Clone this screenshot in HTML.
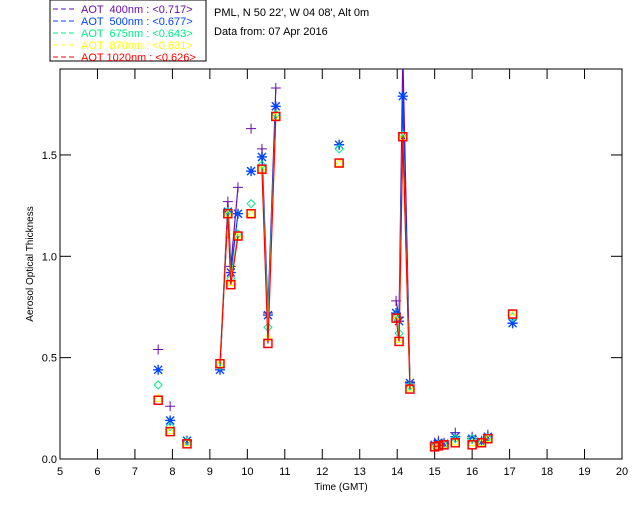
<!DOCTYPE html>
<html><head><meta charset="utf-8"><style>
body{margin:0;background:#fff;width:640px;height:512px;overflow:hidden}
svg text{font-family:"Liberation Sans",sans-serif;font-size:11px}
</style></head><body>
<svg id="chart" width="640" height="512" xmlns="http://www.w3.org/2000/svg">
<rect x="50" y="0" width="156" height="61" fill="#fff" stroke="#000"/>
<g id="legend"></g>
<text x="214" y="16" fill="#000">PML, N 50 22', W 04 08', Alt 0m</text>
<text x="214" y="35" fill="#000">Data from: 07 Apr 2016</text>
<g id="axes"></g>
<g id="plot"></g>
<text x="341" y="490" text-anchor="middle" style="font-size:10px">Time (GMT)</text>
<text transform="translate(33,264) rotate(-90)" text-anchor="middle" style="font-size:10px">Aerosol Optical Thickness</text>
</svg>
<script>
const times=[7.62,7.94,8.39,9.27,9.48,9.56,9.75,10.1,10.39,10.55,10.76,12.45,13.97,14.05,14.15,14.34,15.0,15.1,15.25,15.55,16.0,16.25,16.42,17.08];
const aot400=[0.54,0.26,0.09,0.45,1.27,0.95,1.34,1.63,1.53,0.72,1.83,1.55,0.78,0.7,2.0,0.38,0.08,0.09,0.08,0.13,0.11,0.09,0.12,0.67];
const aot500=[0.44,0.19,0.09,0.44,1.22,0.92,1.21,1.42,1.49,0.71,1.74,1.55,0.72,0.68,1.79,0.375,0.07,0.08,0.075,0.11,0.1,0.085,0.11,0.67];
const aot675=[0.365,0.16,0.085,0.46,1.22,0.89,1.11,1.26,1.45,0.65,1.7,1.53,0.7,0.62,1.6,0.36,0.065,0.07,0.07,0.1,0.1,0.08,0.105,0.7];
const aot870=[0.3,0.14,0.08,0.47,1.21,0.87,1.1,1.21,1.43,0.6,1.69,1.46,0.69,0.59,1.59,0.35,0.06,0.065,0.07,0.085,0.08,0.08,0.1,0.71];
const aot1020=[0.29,0.135,0.075,0.47,1.21,0.86,1.1,1.21,1.43,0.57,1.69,1.46,0.695,0.58,1.59,0.345,0.06,0.065,0.07,0.08,0.07,0.08,0.1,0.715];
const seriesNames=["400nm","500nm","675nm","870nm","1020nm"];
const seriesMeans=["0.717","0.677","0.643","0.631","0.626"];
const xTicks=[5,6,7,8,9,10,11,12,13,14,15,16,17,18,19,20];
const yTicks=[0.0,0.5,1.0,1.5];

const NS="http://www.w3.org/2000/svg";
const L=60,R=622,T=69,B=459,XMIN=5,XMAX=20,YMAX=1.924;
const sx=v=>L+(v-XMIN)/(XMAX-XMIN)*(R-L);
const sy=v=>B-v/YMAX*(B-T);
function mk(tag,attrs,parent){const e=document.createElementNS(NS,tag);for(const k in attrs)e.setAttribute(k,attrs[k]);parent.appendChild(e);return e;}
const colors=["#6a0dad","#0044ff","#00ee88","#ffff00","#ff0000"];
const data=[aot400,aot500,aot675,aot870,aot1020];

const lg=document.getElementById('legend');
seriesNames.forEach((n,i)=>{
  const y=9+i*12;
  const ln=mk('line',{x1:53,x2:76,y1:y,y2:y,stroke:colors[i],'stroke-dasharray':'5,3'},lg);
  
  
  const t=mk('text',{x:81,y:y+4,fill:colors[i]},lg);
  t.textContent='AOT '+(n.length<6?' ':'')+n+' : <'+seriesMeans[i]+'>';
  t.style.whiteSpace='pre';
  
  
});

const ax=document.getElementById('axes');
const frame=mk('rect',{x:L,y:T,width:R-L,height:B-T,fill:'none',stroke:'#000'},ax);


xTicks.forEach(v=>{
  const x=sx(v);
  mk('line',{x1:x,x2:x,y1:B,y2:B-10,stroke:'#000'},ax);
  mk('line',{x1:x,x2:x,y1:T,y2:T+10,stroke:'#000'},ax);
  const t=mk('text',{x:x,y:B+16,'text-anchor':'middle'},ax);
  t.textContent=v;
  
  
});
yTicks.forEach(v=>{
  const y=sy(v);
  mk('line',{x1:L,x2:L+11,y1:y,y2:y,stroke:'#000'},ax);
  mk('line',{x1:R,x2:R-11,y1:y,y2:y,stroke:'#000'},ax);
  const t=mk('text',{x:L-3,y:y+4,'text-anchor':'end'},ax);
  t.textContent=v.toFixed(1);
  
  
});

const pl=document.getElementById('plot');
mk('clipPath',{id:'clp'},pl);
mk('rect',{x:L,y:T,width:R-L,height:B-T},document.getElementById('clp'));
data.forEach((vals,i)=>{
  const g=mk('g',{'clip-path':'url(#clp)'},pl);
  
  
  const c=colors[i];
  for(let k=1;k<times.length;k++){
    if(times[k]-times[k-1]<0.22){
      const s=mk('line',{x1:sx(times[k-1]),y1:sy(vals[k-1]),x2:sx(times[k]),y2:sy(vals[k]),stroke:c,'stroke-width':1.2},g);
      
      
    }
  }
  times.forEach((t,k)=>{
    const x=sx(t),y=sy(vals[k]);let m;
    if(i===0){m=mk('path',{d:`M${x-5},${y}H${x+5}M${x},${y-5}V${y+5}`,stroke:c,fill:'none'},g);}
    else if(i===1){m=mk('path',{d:`M${x-5},${y}H${x+5}M${x},${y-5}V${y+5}M${x-4},${y-4}L${x+4},${y+4}M${x-4},${y+4}L${x+4},${y-4}`,stroke:c,fill:'none','stroke-width':1.4},g);}
    else if(i===2){m=mk('path',{d:`M${x},${y-4}L${x+4},${y}L${x},${y+4}L${x-4},${y}Z`,stroke:c,fill:'none'},g);}
    else if(i===3){m=mk('path',{d:`M${x},${y-4}L${x+4},${y+3}L${x-4},${y+3}Z`,stroke:c,fill:'none'},g);}
    else {m=mk('rect',{x:x-4,y:y-4,width:8,height:8,stroke:c,fill:'none','stroke-width':1.5},g);}
    
    
  });
});
</script>
</body></html>
